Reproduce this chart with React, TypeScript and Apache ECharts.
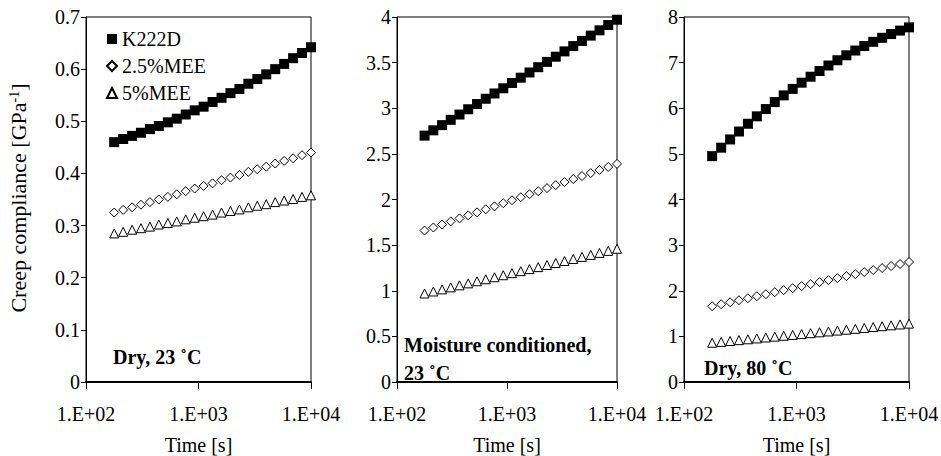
import React, { useEffect, useRef } from "react";
import * as echarts from "echarts";

const times = [178, 214, 257, 308, 370, 444, 534, 641, 770, 925, 1110, 1334, 1602, 1923, 2310, 2774, 3332, 4002, 4806, 5772, 6932, 8325, 10000];

const seriesNames = ["K222D", "2.5%MEE", "5%MEE"];

const dry23K = [0.460, 0.466, 0.472, 0.478, 0.485, 0.491, 0.498, 0.505, 0.513, 0.521, 0.528, 0.537, 0.545, 0.554, 0.562, 0.572, 0.581, 0.590, 0.600, 0.610, 0.621, 0.631, 0.642];
const dry23D = [0.325, 0.330, 0.335, 0.340, 0.345, 0.350, 0.355, 0.360, 0.366, 0.371, 0.376, 0.381, 0.387, 0.392, 0.397, 0.403, 0.408, 0.413, 0.419, 0.424, 0.429, 0.435, 0.440];
const dry23T = [0.285, 0.288, 0.292, 0.295, 0.298, 0.302, 0.305, 0.308, 0.312, 0.315, 0.318, 0.321, 0.325, 0.328, 0.331, 0.335, 0.338, 0.341, 0.345, 0.348, 0.351, 0.355, 0.358];

const moistK = [2.700, 2.758, 2.815, 2.873, 2.931, 2.989, 3.046, 3.104, 3.162, 3.219, 3.277, 3.335, 3.392, 3.450, 3.508, 3.565, 3.623, 3.681, 3.738, 3.796, 3.854, 3.912, 3.970];
const moistD = [1.660, 1.693, 1.726, 1.760, 1.793, 1.826, 1.859, 1.892, 1.925, 1.959, 1.992, 2.025, 2.058, 2.091, 2.125, 2.158, 2.191, 2.224, 2.257, 2.290, 2.324, 2.357, 2.390];
const moistT = [0.970, 0.992, 1.015, 1.037, 1.059, 1.081, 1.104, 1.126, 1.148, 1.170, 1.193, 1.215, 1.237, 1.259, 1.282, 1.304, 1.326, 1.348, 1.371, 1.393, 1.415, 1.437, 1.460];

const dry80K = [4.950, 5.136, 5.316, 5.490, 5.660, 5.823, 5.982, 6.135, 6.282, 6.424, 6.560, 6.691, 6.817, 6.937, 7.052, 7.161, 7.265, 7.363, 7.456, 7.544, 7.626, 7.702, 7.773];
const dry80D = [1.660, 1.704, 1.748, 1.792, 1.836, 1.880, 1.925, 1.969, 2.013, 2.057, 2.101, 2.145, 2.189, 2.233, 2.277, 2.321, 2.365, 2.409, 2.454, 2.498, 2.542, 2.586, 2.630];
const dry80T = [0.860, 0.879, 0.898, 0.917, 0.936, 0.955, 0.975, 0.994, 1.013, 1.032, 1.051, 1.070, 1.089, 1.108, 1.127, 1.146, 1.165, 1.185, 1.204, 1.223, 1.242, 1.261, 1.280];

const yMax = [0.7, 4, 8];
const yInterval = [0.1, 0.5, 1];
const panelLabels = [["Dry, 23 ˚C"], ["Moisture conditioned,", "23 ˚C"], ["Dry, 80 ˚C"]];

const FONT = "Liberation Serif";

export default function App() {
  const ref = useRef<HTMLDivElement>(null);
  useEffect(() => {
    if (!ref.current) return;
    const chart = echarts.init(ref.current, null, { renderer: "svg" });
    const grids = [
      { left: 86, top: 17, width: 225, height: 365 },
      { left: 397, top: 17, width: 220, height: 365 },
      { left: 684, top: 17, width: 225, height: 365 },
    ];
    const panels = [
      [dry23K, dry23D, dry23T],
      [moistK, moistD, moistT],
      [dry80K, dry80D, dry80T],
    ];
    const symbols = ["rect", "diamond", "triangle"];
    const sizes = [10, 9, 9];
    const series: any[] = [];
    panels.forEach((p, pi) => {
      p.forEach((vals, si) => {
        series.push({
          type: "scatter",
          name: seriesNames[si],
          xAxisIndex: pi,
          yAxisIndex: pi,
          symbol: symbols[si],
          symbolSize: sizes[si],
          data: times.map((t, i) => [t, vals[i]]),
          itemStyle:
            si === 0
              ? { color: "#000", borderWidth: 0, opacity: 1 }
              : { color: "#fff", borderColor: "#000", borderWidth: 1, opacity: 1 },
          emphasis: { disabled: true },
        });
      });
    });
    const xAxes = grids.map((_, i) => ({
      type: "log",
      gridIndex: i,
      logBase: 10,
      min: 100,
      max: 10000,
      name: "Time [s]",
      nameLocation: "middle",
      nameGap: 53,
      nameMoveOverlap: false,
      nameTextStyle: { fontFamily: FONT, fontSize: 20, color: "#000" },
      axisLine: { show: true, lineStyle: { color: "#000", width: 2 } },
      axisTick: { show: true, inside: false, length: 7, lineStyle: { color: "#000", width: 1 } },
      minorTick: { show: false },
      splitLine: { show: false },
      axisLabel: {
        fontFamily: FONT,
        fontSize: 20,
        color: "#000",
        margin: 22,
        formatter: (v: number) => {
          const e = Math.round(Math.log10(v));
          return "1.E+" + String(e).padStart(2, "0");
        },
      },
    }));
    const yAxes = grids.map((_, i) => ({
      type: "value",
      gridIndex: i,
      min: 0,
      max: yMax[i],
      interval: yInterval[i],
      axisLine: { show: true, lineStyle: { color: "#000", width: 1 } },
      axisTick: { show: true, inside: false, length: 5, lineStyle: { color: "#000" } },
      splitLine: { show: false },
      axisLabel: {
        fontFamily: FONT,
        fontSize: 20,
        color: "#000",
        margin: 6,
        formatter: (v: number) => String(Math.round(v * 100) / 100),
      },
    }));
    const graphics: any[] = [
      {
        type: "text",
        x: 18,
        y: 198,
        rotation: Math.PI / 2,
        style: {
          text: "Creep compliance [GPa{sup|-1}]",
          fontFamily: FONT,
          fontSize: 22,
          fill: "#000",
          align: "center",
          verticalAlign: "middle",
          rich: {
            sup: { fontFamily: FONT, fontSize: 14, verticalAlign: "top", fill: "#000", padding: [0, 0, 8, 0] },
          },
        },
      },
    ];
    const labelPos = [
      [{ x: 113, y: 357 }],
      [{ x: 404, y: 345 }, { x: 404, y: 373 }],
      [{ x: 704, y: 368 }],
    ];
    panelLabels.forEach((lines, pi) => {
      lines.forEach((t, li) => {
        graphics.push({
          type: "text",
          x: labelPos[pi][li].x,
          y: labelPos[pi][li].y,
          style: {
            text: t,
            fontFamily: FONT,
            fontSize: 20,
            fontWeight: "bold",
            fill: "#000",
            align: "left",
            verticalAlign: "middle",
          },
        });
      });
    });
    chart.setOption({
      animation: false,
      backgroundColor: "#fff",
      textStyle: { fontFamily: FONT },
      grid: grids.map((g) => ({
        ...g,
        show: true,
        borderColor: "#000",
        borderWidth: 1,
        backgroundColor: "transparent",
        outerBoundsMode: "none",
        containLabel: false,
      })),
      xAxis: xAxes,
      yAxis: yAxes,
      legend: {
        orient: "vertical",
        left: 106,
        top: 28,
        itemGap: 5,
        itemWidth: 10,
        itemHeight: 10,
        padding: 0,
        selectedMode: false,
        data: seriesNames,
        textStyle: { fontFamily: FONT, fontSize: 20, color: "#000", lineHeight: 22 },
      },
      series,
      graphic: graphics,
    });
    return () => chart.dispose();
  }, []);
  return (
    <div
      ref={ref}
      style={{ position: "fixed", left: 0, top: 0, width: 941, height: 456, background: "#fff" }}
    />
  );
}
